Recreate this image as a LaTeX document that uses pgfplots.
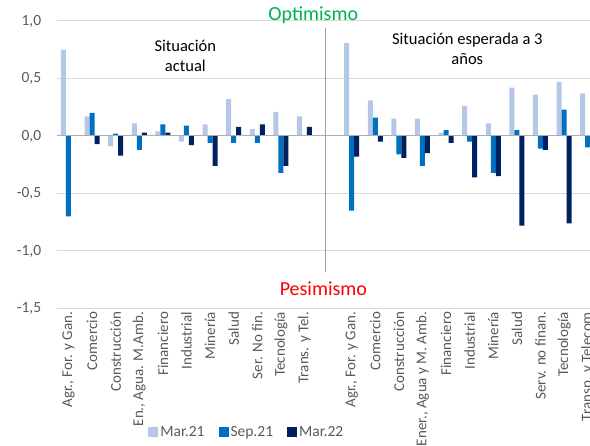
\documentclass[border=0pt]{standalone}
\usepackage{fontspec}
\setmainfont{Carlito}
\usepackage{pgfplots}
\usepackage{pgfplotstable}
\pgfplotsset{compat=1.18}

\definecolor{cMarA}{HTML}{B4C7E7}
\definecolor{cSep}{HTML}{0070C0}
\definecolor{cMarB}{HTML}{002060}
\definecolor{txt}{HTML}{595959}
\definecolor{gridc}{HTML}{D9D9D9}
\definecolor{optim}{HTML}{00B050}

% x: 0-10 situacion actual, 12-22 situacion esperada a 3 anos
\pgfplotstableread{
x   m21    s21    m22
0   0.75  -0.70   0
1   0.17   0.20  -0.07
2  -0.09   0.02  -0.17
3   0.11  -0.12   0.03
4   0.04   0.10   0.03
5  -0.05   0.09  -0.08
6   0.10  -0.06  -0.26
7   0.32  -0.06   0.08
8   0.06  -0.06   0.10
9   0.21  -0.32  -0.26
10  0.17   0      0.08
12  0.81  -0.65  -0.18
13  0.31   0.16  -0.05
14  0.15  -0.16  -0.19
15  0.15  -0.26  -0.15
16  0.03   0.05  -0.06
17  0.26  -0.05  -0.36
18  0.11  -0.32  -0.35
19  0.42   0.05  -0.78
20  0.36  -0.11  -0.12
21  0.47   0.23  -0.76
22  0.37  -0.10   0
}\datatable

\begin{document}
\begin{tikzpicture}
\begin{axis}[
  at={(56.7pt,137.5pt)}, anchor=south west,
  scale only axis,
  width=542.8pt, height=287.5pt,
  ybar=0pt, bar width=5pt,
  xmin=-0.5, xmax=22.5,
  ymin=-1.5, ymax=1,
  ytick={-1.5,-1,-0.5,0,0.5,1},
  xtick={0,1,2,3,4,5,6,7,8,9,10,12,13,14,15,16,17,18,19,20,21,22},
  xticklabels={{Agr., For. y Gan.},Comercio,Construcción,{En., Agua. M.Amb.},Financiero,Industrial,Minería,Salud,Ser. No fin.,Tecnología,Trans. y Tel.,
    {Agr., For. y Gan.},Comercio,Construcción,{Ener., Agua y M. Amb.},Financiero,Industrial,Minería,Salud,Serv. no finan.,Tecnología,Transp. y Telecom},
  xticklabel style={rotate=90, anchor=east, font=\fontsize{15}{18}\selectfont, text=txt},
  yticklabel style={font=\fontsize{15.5}{18}\selectfont, text=txt, xshift=-12pt},
  /pgf/number format/.cd, fixed, fixed zerofill, precision=1, use comma, assume math mode=true,
  /pgfplots/.cd,
  axis line style={draw=none},
  major tick length=0pt,
  ymajorgrids, grid style={gridc, line width=1pt},
  clip=false,
  legend columns=3,
  legend style={draw=none, fill=none, at={(0.163,-0.43)}, anchor=west,
    font=\fontsize{15.5}{18}\selectfont, text=txt,
    /tikz/every even column/.append style={column sep=12pt}},
  legend image code/.code={\fill[#1] (0pt,-5pt) rectangle (10pt,5pt);},
]
\addplot[fill=cMarA, draw=none] table[x=x, y=m21] {\datatable};
\addplot[fill=cSep, draw=none] table[x=x, y=s21] {\datatable};
\addplot[fill=cMarB, draw=none] table[x=x, y=m22] {\datatable};
\legend{Mar.21, Sep.21, Mar.22}

\draw[color=gridc!80!black, line width=1pt] (axis cs:-0.5,0) -- (axis cs:22.5,0);
\draw[color=gray!75, line width=1.5pt] (axis cs:10.88,0.94) -- (axis cs:10.88,-1.18);
\node[font=\fontsize{20}{22}\selectfont, text=optim] at (axis cs:10.37,1.05) {Optimismo};
\node[font=\fontsize{20}{22}\selectfont, text=red] at (axis cs:10.8,-1.33) {Pesimismo};
\node[font=\fontsize{16.5}{20}\selectfont, align=center] at (axis cs:4.95,0.70) {Situación\\actual};
\node[font=\fontsize{16.5}{20}\selectfont, align=center] at (axis cs:16.9,0.76) {Situación esperada a 3\\años};
\end{axis}
\pgfresetboundingbox
\path (0,0) rectangle (590pt,446pt);
\end{tikzpicture}
\end{document}
